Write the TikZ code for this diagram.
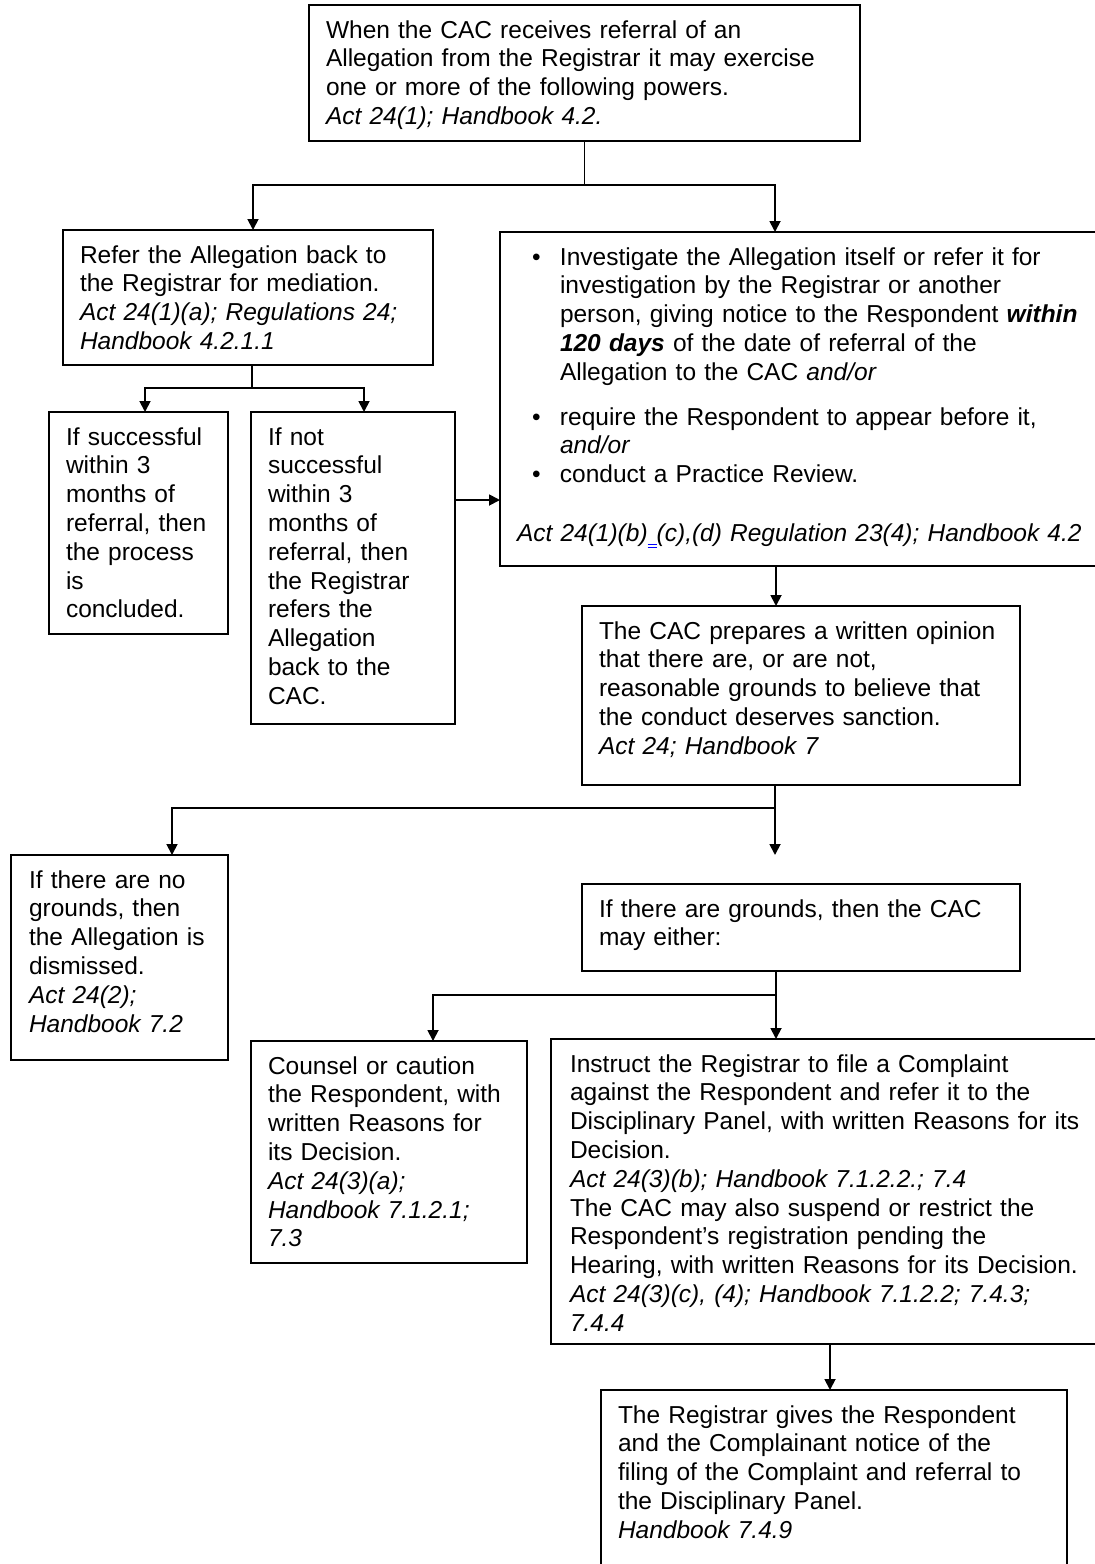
\documentclass[tikz,border=0pt]{standalone}
\usepackage{fontspec}
\setmainfont{Liberation Sans}
\usetikzlibrary{arrows.meta}
\hyphenpenalty=10000
\exhyphenpenalty=10000

\tikzset{
  box/.style={draw, line width=1.8pt, anchor=north west, align=left,
    inner xsep=17pt, inner ysep=0pt, outer sep=0pt, text height=33pt},
  link/.style={line width=1.8pt},
}
\newcommand{\bul}{\hspace*{15pt}\makebox[28pt][l]{\textbullet}}
\newcommand{\ind}{\hspace*{43pt}}
\newcommand{\gmark}{\makebox[9pt][l]{\textcolor{blue}{\rule[-3pt]{9pt}{0.9pt}\llap{\rule[-6pt]{9pt}{0.9pt}}}}}

\begin{document}
\begin{tikzpicture}[x=1pt, y=-1pt, font=\fontsize{24.5}{28.8}\selectfont\frenchspacing, >={Triangle[length=11pt,width=11pt]}]
  \useasboundingbox (0,0) rectangle (1095,1564);

  % boxes
  \node[box, text width=517pt, text depth=103pt] (top) at (309,5)
    {When the CAC receives referral of an\\
     Allegation from the Registrar it may exercise\\
     one or more of the following powers.\\
     \textit{Act 24(1); Handbook 4.2.}};
  \node[box, text width=336pt, text depth=102pt] (mediate) at (63,230)
    {Refer the Allegation back to\\
     the Registrar for mediation.\\
     \textit{Act 24(1)(a); Regulations 24;}\\
     \textit{Handbook 4.2.1.1}};
  \node[box, text width=145pt, text depth=189pt] (success) at (49,412)
    {If successful\\ within 3\\ months of\\ referral, then\\ the process\\ is\\ concluded.};
  \node[box, text width=170pt, text depth=279pt] (fail) at (251,412)
    {If not\\ successful\\ within 3\\ months of\\ referral, then\\ the Registrar\\ refers the\\ Allegation\\ back to the\\ CAC.};
  \node[box, text width=586pt, text depth=301pt] (investigate) at (500,232)
    {\bul Investigate the Allegation itself or refer it for\\
     \ind investigation by the Registrar or another\\
     \ind person, giving notice to the Respondent \textbf{\textit{within}}\\
     \ind \textbf{\textit{120 days}} of the date of referral of the\\
     \ind Allegation to the CAC \textit{and/or}\\[16pt]
     \bul require the Respondent to appear before it,\\
     \ind \textit{and/or}\\
     \bul conduct a Practice Review.\\[30pt]
     \textit{Act 24(1)(b)\gmark(c),(d) Regulation 23(4); Handbook 4.2}};
  \node[box, text width=404pt, text depth=146pt] (opinion) at (582,606)
    {The CAC prepares a written opinion\\
     that there are, or are not,\\
     reasonable grounds to believe that\\
     the conduct deserves sanction.\\
     \textit{Act 24; Handbook 7}};
  \node[box, inner xsep=18pt, text width=181pt, text depth=172pt] (dismiss) at (11,855)
    {If there are no\\ grounds, then\\ the Allegation is\\ dismissed.\\
     \textit{Act 24(2);}\\ \textit{Handbook 7.2}};
  \node[box, text width=404pt, text depth=54pt] (grounds) at (582,884)
    {If there are grounds, then the CAC\\ may either:};
  \node[box, text width=242pt, text depth=189pt] (counsel) at (251,1041)
    {Counsel or caution\\ the Respondent, with\\ written Reasons for\\ its Decision.\\
     \textit{Act 24(3)(a);}\\ \textit{Handbook 7.1.2.1;}\\ \textit{7.3}};
  \node[box, inner xsep=19pt, text width=522pt, text depth=272pt] (complaint) at (551,1039)
    {Instruct the Registrar to file a Complaint\\
     against the Respondent and refer it to the\\
     Disciplinary Panel, with written Reasons for its\\
     Decision.\\
     \textit{Act 24(3)(b); Handbook 7.1.2.2.; 7.4}\\
     The CAC may also suspend or restrict the\\
     Respondent’s registration pending the\\
     Hearing, with written Reasons for its Decision.\\
     \textit{Act 24(3)(c), (4); Handbook 7.1.2.2; 7.4.3;}\\
     \textit{7.4.4}};
  \node[box, text width=432pt, text depth=187pt] (notice) at (601,1390)
    {The Registrar gives the Respondent\\
     and the Complainant notice of the\\
     filing of the Complaint and referral to\\
     the Disciplinary Panel.\\
     \textit{Handbook 7.4.9}};

  % connectors
  \draw[link] (top.south) -- ++(0,44) coordinate (s1);
  \draw[link,->] (s1) -| ([xshift=190pt]mediate.north west);
  \draw[link,->] (s1) -| ([xshift=275pt]investigate.north west);

  \draw[link] ([xshift=189pt]mediate.south west) -- ++(0,23) coordinate (s2);
  \draw[link,->] (s2) -| ([xshift=96pt]success.north west);
  \draw[link,->] (s2) -| ([xshift=113pt]fail.north west);
  \draw[link,->] ([yshift=-88pt]fail.north east) -- ([yshift=-88pt]fail.north east -| investigate.west);

  \draw[link,->] ([xshift=276pt]investigate.south west) -- ([xshift=194pt]opinion.north west);

  \draw[link] ([xshift=193pt]opinion.south west) -- ++(0,23) coordinate (s3);
  \draw[link,->] (s3) -| ([xshift=161pt]dismiss.north west);
  \coordinate (gap) at (775,855);
  \draw[link,->] (s3) -- (gap);

  \draw[link] ([xshift=194pt]grounds.south west) -- ++(0,24) coordinate (s4);
  \draw[link,->] (s4) -| ([xshift=182pt]counsel.north west);
  \draw[link,->] (s4) -- ([xshift=225pt]complaint.north west);

  \draw[link,->] ([xshift=279pt]complaint.south west) -- ([xshift=229pt]notice.north west);
\end{tikzpicture}
\end{document}
